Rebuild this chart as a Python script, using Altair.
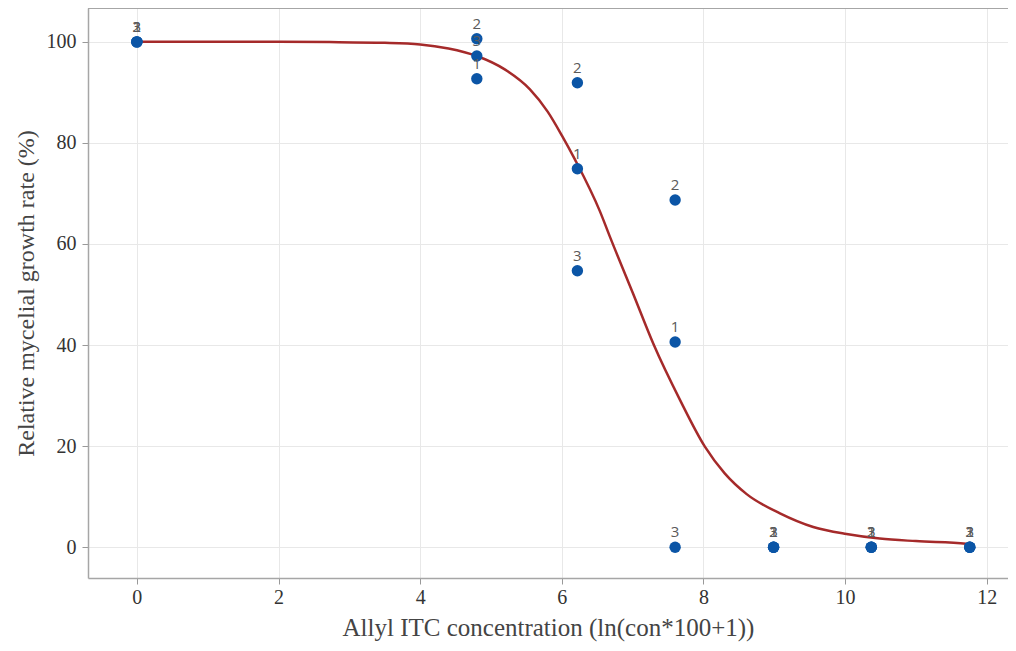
import altair as alt
import pandas as pd

# Concentrations on ln(con*100+1) scale
conc = [0.0, 4.80, 6.22, 7.60, 8.99, 10.37, 11.76]
# Relative mycelial growth rate (%) for each replicate
rep1 = [100.0, 92.7, 74.9, 40.6, 0.0, 0.0, 0.0]
rep2 = [100.0, 100.6, 91.9, 68.7, 0.0, 0.0, 0.0]
rep3 = [100.0, 97.2, 54.7, 0.0, 0.0, 0.0, 0.0]
reps = ["1", "2", "3"]

# Fitted curve
curve_x = [0.0, 1.0, 2.0, 2.72, 3.5, 4.0, 4.4, 4.8, 5.2, 5.55, 5.8, 6.0, 6.19,
           6.54, 6.68, 7.0, 7.3, 7.67, 8.02, 8.3, 8.61, 9.08, 9.55, 10.02,
           10.49, 11.0, 11.71, 11.76]
curve_y = [100.0, 100.0, 100.0, 99.95, 99.8, 99.5, 98.7, 97.2, 94.5, 90.6, 86.2,
           81.5, 76.6, 66.4, 61.4, 50.4, 40.0, 29.1, 19.9, 14.6, 10.5, 6.7,
           4.0, 2.6, 1.7, 1.2, 0.7, 0.6]

x_ticks = [0, 2, 4, 6, 8, 10, 12]
y_ticks = [0, 20, 40, 60, 80, 100]

rows = []
for rep, vals in zip(reps, [rep1, rep2, rep3]):
    for xv, yv in zip(conc, vals):
        rows.append({"x": xv, "y": yv, "rep": rep})
pts = pd.DataFrame(rows)
curve = pd.DataFrame({"x": curve_x, "y": curve_y})

xs = alt.Scale(domain=[-0.69, 12.30], nice=False, zero=False)
ys = alt.Scale(domain=[-6.1, 106.7], nice=False, zero=False)

x_enc = alt.X("x:Q", scale=xs, axis=alt.Axis(
    title="Allyl ITC concentration (ln(con*100+1))", values=x_ticks,
    format="d", titlePadding=8, labelPadding=3, titleFontSize=25))
y_enc = alt.Y("y:Q", scale=ys, axis=alt.Axis(
    title="Relative mycelial growth rate (%)", values=y_ticks,
    format="d", titlePadding=8, labelPadding=6, titleFontSize=24))

# top border of the panel
top_border = alt.Chart(curve).mark_rule(color="#a6a6a6", strokeWidth=1.5).encode(
    x=alt.value(0), x2=alt.value(920), y=alt.value(0))

line = alt.Chart(curve).mark_line(
    color="#A52A2A", strokeWidth=2.5, interpolate="monotone"
).encode(x=x_enc, y=y_enc)

points = alt.Chart(pts).mark_circle(
    size=130, color="#0B55A6", opacity=1
).encode(x="x:Q", y="y:Q")

labels = alt.Chart(pts).mark_text(
    dy=-15, fontSize=15, color="#5a5a5a", font="Open Sans"
).encode(x="x:Q", y="y:Q", text="rep:N")

chart = alt.layer(line, top_border, points, labels).properties(
    width=920, height=570,
    autosize="none",
    padding={"left": 80, "top": 0, "right": 0, "bottom": 65},
).configure_view(
    stroke="transparent"
).configure_axis(
    labelFont="Liberation Serif", labelFontSize=20, labelColor="#333333",
    titleFont="Liberation Serif", titleColor="#444444",
    titleFontWeight="normal",
    gridColor="#e8e8e8", gridWidth=1,
    tickColor="#999999", tickSize=6,
    domain=True, domainColor="#a6a6a6", domainWidth=1.5,
)

chart.save("out.html", embed_options={"renderer": "svg", "actions": False})
